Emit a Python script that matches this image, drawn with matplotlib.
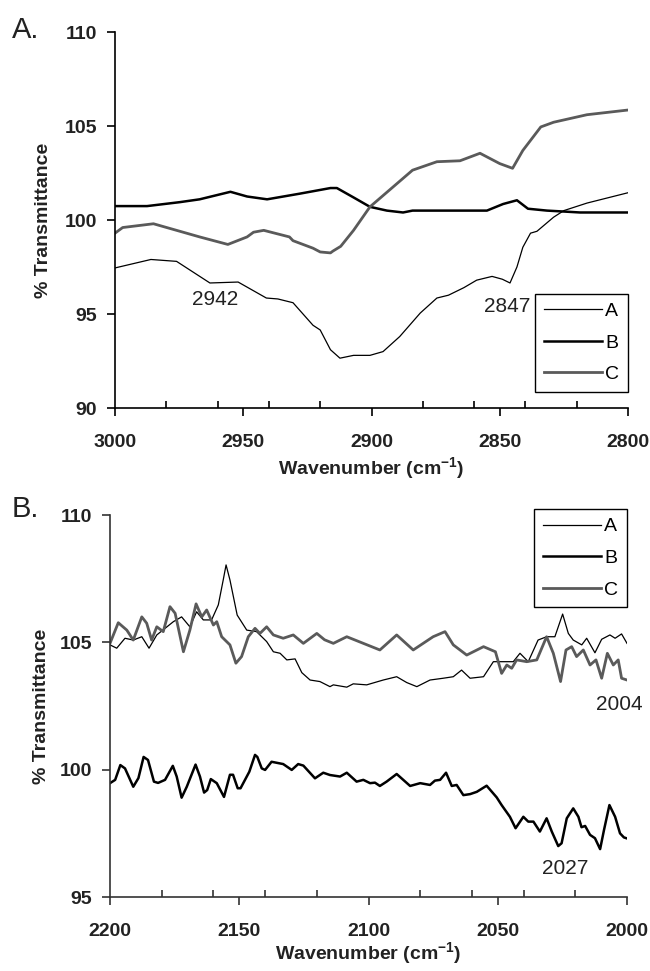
import matplotlib
matplotlib.use("Agg")
import matplotlib.pyplot as plt
from matplotlib.ticker import MultipleLocator

plt.rcParams['font.family'] = ['Liberation Sans', 'DejaVu Sans']
plt.rcParams['mathtext.fontset'] = 'custom'
plt.rcParams['mathtext.rm'] = 'Liberation Sans'
plt.rcParams['mathtext.bf'] = 'Liberation Sans:bold'

# ---------------- Panel A data (3000-2800 cm-1) ----------------
a_A_x = [3000, 2986, 2976, 2963, 2952, 2941, 2936.5, 2930.6, 2922.8, 2920, 2916, 2912.3,
         2907, 2900.6, 2895.5, 2889, 2881, 2874.5, 2870, 2864, 2859, 2853, 2849, 2846,
         2843.3, 2841, 2838, 2835.5, 2829, 2825, 2816, 2800]
a_A_y = [97.45, 97.9, 97.8, 96.65, 96.7, 95.85, 95.8, 95.6, 94.4, 94.15, 93.1, 92.65,
         92.8, 92.8, 93.0, 93.8, 95.05, 95.85, 96.0, 96.4, 96.8, 97.0, 96.85, 96.65,
         97.5, 98.55, 99.3, 99.4, 100.15, 100.5, 100.9, 101.45]

a_B_x = [3000, 2987.5, 2974.7, 2967, 2955, 2948.5, 2940.7, 2928, 2916, 2913.5, 2907,
         2900.6, 2894, 2887.7, 2884, 2874.5, 2855, 2848.7, 2843.3, 2839, 2831.6, 2825,
         2818.7, 2800]
a_B_y = [100.74, 100.74, 100.95, 101.1, 101.5, 101.25, 101.1, 101.4, 101.7, 101.7, 101.2,
         100.7, 100.5, 100.4, 100.5, 100.5, 100.5, 100.85, 101.05, 100.6, 100.5, 100.45,
         100.4, 100.4]

a_C_x = [3000, 2997, 2985, 2976, 2967, 2956, 2948.5, 2946, 2942, 2932, 2930.6, 2922.8,
         2920, 2916, 2915, 2912, 2907, 2900.6, 2884, 2874.5, 2865.5, 2857.7, 2850, 2845,
         2841, 2834, 2829, 2816, 2800]
a_C_y = [99.3, 99.6, 99.8, 99.45, 99.1, 98.7, 99.1, 99.35, 99.45, 99.1, 98.9, 98.5,
         98.3, 98.25, 98.35, 98.6, 99.45, 100.7, 102.65, 103.1, 103.15, 103.55, 103.0, 102.75,
         103.7, 104.95, 105.2, 105.6, 105.85]

# ---------------- Panel B data (2200-2000 cm-1) ----------------
b_A_x = [2200, 2197.4, 2194.2, 2191, 2187.7, 2184.9, 2181.9, 2178.7, 2175.5, 2172.3, 2169.1,
         2166.5, 2163.9, 2160.7, 2158.1, 2156.2, 2155.1, 2153.6, 2150.8, 2147.1, 2143.3,
         2139.4, 2136.8, 2134.2, 2131.6, 2128.4, 2125.8, 2122.6, 2118.8, 2114.9, 2113.6,
         2108.4, 2105.9, 2100.7, 2094.3, 2089.1, 2085.2, 2081.3, 2076.2, 2071.1, 2067.2,
         2064, 2060.7, 2055.5, 2051.7, 2049.1, 2044, 2041.4, 2038.2, 2034.4, 2031.1, 2027.9,
         2024.9, 2022.7, 2020.8, 2017.5, 2015.6, 2012.4, 2009.8, 2006.6, 2004.6, 2002.1, 2000]
b_A_y = [104.9, 104.77, 105.16, 105.09, 105.22, 104.77, 105.29, 105.55, 105.81, 106.0, 105.61,
         106.2, 105.88, 105.88, 106.47, 107.45, 108.04, 107.45, 106.07, 105.48, 105.42,
         105.03, 104.63, 104.57, 104.31, 104.35, 103.81, 103.52, 103.46, 103.26, 103.33,
         103.24, 103.37, 103.33, 103.52, 103.65, 103.42, 103.26, 103.52, 103.59, 103.65,
         103.91, 103.59, 103.65, 104.24, 104.24, 104.24, 104.57, 104.24, 105.09, 105.22, 105.22,
         106.11, 105.35, 105.09, 104.9, 105.16, 104.59, 105.12, 105.29, 105.16, 105.33, 104.96]

b_B_x = [2200, 2198, 2196, 2194.2, 2191, 2189, 2187, 2185.3, 2183, 2181.4, 2178.7, 2175.7,
         2174.2, 2172.3, 2170.3, 2166.9, 2165.2, 2163.6, 2162.4, 2161, 2158.7, 2155.9, 2153.6,
         2152.4, 2150.6, 2149.5, 2146.1, 2143.9, 2143, 2141.3, 2140, 2137.5, 2133, 2129.7,
         2127.2, 2125.2, 2120.7, 2117.5, 2114.9, 2111, 2108.4, 2104.6, 2102, 2099.4, 2097.5,
         2095.6, 2093, 2089.1, 2083.9, 2080, 2076.2, 2074.3, 2072.3, 2070, 2067.8, 2065.9,
         2063.3, 2060.7, 2058.1, 2054.3, 2050.4, 2048.5, 2045.3, 2043.1, 2040.1, 2038.2,
         2036.2, 2033.7, 2031.1, 2029.1, 2026.6, 2025.3, 2023.3, 2020.8, 2018.8, 2017.6,
         2016.2, 2014.3, 2012.4, 2010.4, 2008.9, 2006.8, 2004.6, 2002.7, 2001.2, 2000]
b_B_y = [99.47, 99.6, 100.18, 100.05, 99.33, 99.67, 100.5, 100.38, 99.53, 99.48, 99.6, 100.15,
         99.73, 98.9, 99.33, 100.2, 99.73, 99.1, 99.2, 99.63, 99.47, 98.93, 99.8,
         99.8, 99.27, 99.27, 99.92, 100.58, 100.5, 100.05, 99.99, 100.31, 100.22, 99.99,
         100.22, 100.16, 99.66, 99.88, 99.79, 99.73, 99.88, 99.53, 99.6, 99.47, 99.49,
         99.36, 99.53, 99.83, 99.36, 99.47, 99.4, 99.57, 99.6, 99.88, 99.36, 99.4,
         99.0, 99.04, 99.13, 99.37, 98.91, 98.61, 98.15, 97.7, 98.15, 97.96,
         97.96, 97.57, 98.09, 97.57, 97.0, 97.11, 98.09, 98.48, 98.15, 97.74,
         97.79, 97.44, 97.31, 96.88, 97.63, 98.61, 98.15, 97.5, 97.34, 97.3]

b_C_x = [2200, 2196.8, 2193.5, 2191, 2187.7, 2185.8, 2183.9, 2181.9, 2179.4, 2176.8, 2174.8,
         2171.6, 2169.1, 2166.7, 2164.5, 2162.6, 2160, 2158.7, 2156.8, 2154.9, 2153.6, 2151.3,
         2149.1, 2146.5, 2143.9, 2142, 2139.4, 2136.8, 2133, 2129.1, 2125.2, 2120, 2117,
         2113.6, 2108.4, 2102, 2095.6, 2089.1, 2082.7, 2075, 2070.4, 2067.2, 2062, 2055.5,
         2050.9, 2048.5, 2046.5, 2044.6, 2042.7, 2038.8, 2034.9, 2031.1, 2028.5, 2025.7,
         2023.6, 2021.4, 2019.5, 2016.9, 2014.3, 2012, 2009.8, 2007.6, 2005.3, 2003.4, 2002.1, 2000]
b_C_y = [104.96, 105.77, 105.48, 105.09, 106.0, 105.75, 105.09, 105.61, 105.42, 106.4, 106.14,
         104.63, 105.48, 106.51, 106.0, 106.27, 105.68, 105.81, 105.22, 105.03, 104.9, 104.18,
         104.44, 105.22, 105.55, 105.35, 105.61, 105.29, 105.16, 105.29, 104.96, 105.35, 105.1,
         104.96, 105.22, 104.96, 104.7, 105.29, 104.7, 105.22, 105.42, 104.9, 104.5, 104.83,
         104.63, 103.78, 104.11, 103.98, 104.31, 104.24, 104.31, 105.22, 104.57, 103.46,
         104.7, 104.83, 104.44, 104.7, 104.11, 104.31, 103.59, 104.57, 104.11, 104.31, 103.59, 103.52]

series_labels = ['A', 'B', 'C']
a_yticks = [90, 95, 100, 105, 110]
b_yticks = [95, 100, 105, 110]

GRAY = '#5a5a5a'

fig = plt.figure(figsize=(6.5, 9.71), dpi=100)
axA = fig.add_axes([115/650, 1-408/971, 513/650, 376/971])
axB = fig.add_axes([110/650, 1-897/971, 517/650, 382/971])


def style(ax, xlim, ylim, yticks, spine_color):
    ax.set_xlim(*xlim)
    ax.set_ylim(*ylim)
    ax.set_yticks(yticks)
    ax.xaxis.set_major_locator(MultipleLocator(50))
    ax.xaxis.set_minor_locator(MultipleLocator(20))
    for s in ['top', 'right']:
        ax.spines[s].set_visible(False)
    for s in ['left', 'bottom']:
        ax.spines[s].set_color(spine_color)
        ax.spines[s].set_linewidth(1.2)
    ax.tick_params(axis='x', which='major', direction='out', length=6, width=1.2,
                   color=spine_color, pad=13, labelsize=14)
    ax.tick_params(axis='x', which='minor', direction='in', length=5, width=1.2,
                   color=spine_color)
    ax.tick_params(axis='y', which='major', direction='out', length=6, width=1.2,
                   color=spine_color, pad=7, labelsize=14)
    for lab in ax.get_xticklabels() + ax.get_yticklabels():
        lab.set_fontweight('bold')
        lab.set_color('#222222')
    ax.set_ylabel('% Transmittance', fontsize=14, fontweight='bold', color='#222222')
    ax.set_xlabel(r'Wavenumber (cm$^{\mathbf{-1}}$)', fontsize=14, fontweight='bold',
                  color='#222222')


def make_legend(ax, **kw):
    leg = ax.legend(borderaxespad=0, fontsize=14, handlelength=3.0, handletextpad=0.15,
                    labelspacing=0.72, fancybox=False, framealpha=1, edgecolor='black',
                    borderpad=0.45, **kw)
    leg.get_frame().set_linewidth(1.0)
    return leg


# Panel A
axA.plot(a_A_x, a_A_y, color='black', lw=0.9, label=series_labels[0])
axA.plot(a_B_x, a_B_y, color='black', lw=1.8, label=series_labels[1])
axA.plot(a_C_x, a_C_y, color=GRAY, lw=2.0, label=series_labels[2])
style(axA, (3000, 2800), (90, 110), a_yticks, 'black')
axA.yaxis.set_label_coords(-0.122, 0.5)
axA.xaxis.set_label_coords(0.5, -0.125)
axA.text(2961, 95.75, '2942', fontsize=15, ha='center', va='center', color='#222222')
axA.text(2847, 95.4, '2847', fontsize=15, ha='center', va='center', color='#222222')
make_legend(axA, loc='lower right', bbox_to_anchor=(1.0, 0.0426))

# Panel B
axB.plot(b_A_x, b_A_y, color='black', lw=0.9, label=series_labels[0])
axB.plot(b_B_x, b_B_y, color='black', lw=1.8, label=series_labels[1])
axB.plot(b_C_x, b_C_y, color=GRAY, lw=2.0, label=series_labels[2])
style(axB, (2200, 2000), (95, 110), b_yticks, '#333333')
axB.yaxis.set_label_coords(-0.117, 0.5)
axB.xaxis.set_label_coords(0.5, -0.113)
axB.text(2003, 102.55, '2004', fontsize=15, ha='center', va='center', color='#222222')
axB.text(2024, 96.1, '2027', fontsize=15, ha='center', va='center', color='#222222')
make_legend(axB, loc='upper right', bbox_to_anchor=(1.0, 1.0157))

fig.text(12/650, 1-38/971, 'A.', fontsize=21, ha='left', va='baseline', color='#222222')
fig.text(12/650, 1-517/971, 'B.', fontsize=21, ha='left', va='baseline', color='#222222')

fig.savefig('out.png', dpi=100)
